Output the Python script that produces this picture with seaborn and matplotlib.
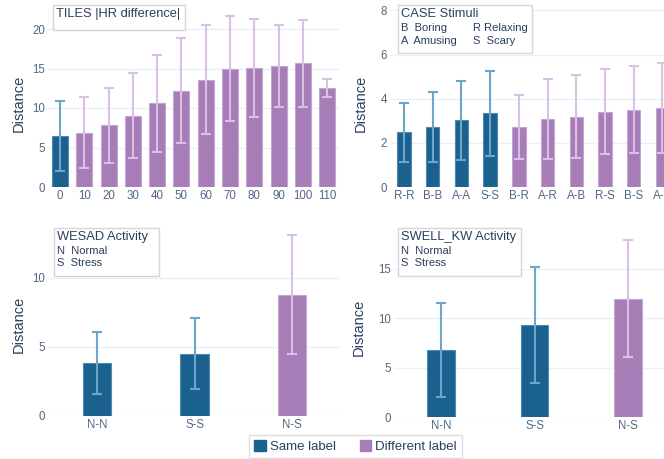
import pandas as pd
import numpy as np
import seaborn as sns
import matplotlib.pyplot as plt
from matplotlib.patches import Patch, Rectangle

# data
tiles_cats = ["0", "10", "20", "30", "40", "50", "60", "70", "80", "90", "100", "110"]
tiles_mean = [6.45, 6.85, 7.8, 9.05, 10.6, 12.2, 13.6, 15.0, 15.05, 15.3, 15.65, 12.55]
tiles_sd = [4.45, 4.5, 4.75, 5.4, 6.15, 6.65, 6.85, 6.7, 6.25, 5.2, 5.5, 1.1]
tiles_grp = ["Same label"] + ["Different label"] * 11

case_cats = ["R-R", "B-B", "A-A", "S-S", "B-R", "A-R", "A-B", "R-S", "B-S", "A-S"]
case_mean = [2.47, 2.73, 3.02, 3.33, 2.7, 3.08, 3.18, 3.42, 3.5, 3.58]
case_sd = [1.33, 1.58, 1.8, 1.93, 1.45, 1.83, 1.88, 1.91, 1.96, 2.04]
case_grp = ["Same label"] * 4 + ["Different label"] * 6

wesad_cats = ["N-N", "S-S", "N-S"]
wesad_mean = [3.83, 4.52, 8.77]
wesad_sd = [2.25, 2.58, 4.32]
wesad_grp = ["Same label", "Same label", "Different label"]

swell_cats = ["N-N", "S-S", "N-S"]
swell_mean = [6.8, 9.3, 12.0]
swell_sd = [4.75, 5.9, 5.95]
swell_grp = ["Same label", "Same label", "Different label"]

W, H = 664, 459
GROUPS = ["Same label", "Different label"]
BLUE, PURPLE = "#1b6190", "#a77db8"
ERR = {"Same label": "#6ea6c9", "Different label": "#d9c0e4"}
EDGE = {"Same label": "#4f89b0", "Different label": "#c4a4d2"}
TICK, TITLE, GRID = "#506784", "#2a3f5f", "#ebf0f8"

sns.set_style("white")
plt.rcParams["font.family"] = ["Liberation Sans", "DejaVu Sans"]

fig = plt.figure(figsize=(W / 100, H / 100), dpi=100)


def add_ax(left, bottom, right, top):
    # pixel box (from top-left) -> figure fractions
    return fig.add_axes([left / W, 1 - bottom / H, (right - left) / W, (bottom - top) / H])


def draw(ax, cats, mean, sd, grp, width, ylim, yticks, xlim, lab_xy):
    df = pd.DataFrame({"cat": cats, "mean": mean, "sd": sd, "grp": grp})
    sns.barplot(data=df, x="cat", y="mean", hue="grp", order=cats, hue_order=GROUPS,
                palette=[BLUE, PURPLE], saturation=1, dodge=False, width=width,
                errorbar=None, legend=False, ax=ax, zorder=2)
    for cont, g in zip(ax.containers, GROUPS):
        for p in cont:
            p.set_edgecolor(EDGE[g])
            p.set_linewidth(0.8)
    for i, row in df.iterrows():
        ax.errorbar(i, row["mean"], yerr=row["sd"], color=ERR[row["grp"]],
                    lw=1.5, capsize=3.8, capthick=1.5, zorder=3)
    ax.set_ylim(*ylim)
    ax.set_xlim(*xlim)
    ax.set_yticks(yticks)
    ax.grid(axis="y", color=GRID, lw=1, zorder=0)
    ax.set_axisbelow(True)
    for s in ax.spines.values():
        s.set_visible(False)
    ax.tick_params(axis="both", labelsize=8.3, colors=TICK, length=0, pad=2)
    ax.set_xlabel("")
    ax.set_ylabel("Distance", fontsize=10.5, color=TITLE)
    ax.yaxis.label.set_verticalalignment("center")
    ax.yaxis.set_label_coords(*lab_xy)


def note_box(x0, y0, x1, y1, title, rows, col2=None):
    fig.patches.append(Rectangle((x0 / W, 1 - y1 / H), (x1 - x0) / W, (y1 - y0) / H,
                                 transform=fig.transFigure, facecolor="white",
                                 edgecolor="#d6d6d6", lw=1, zorder=5))
    fig.text((x0 + 3) / W, 1 - (y0 + 9) / H, title, fontsize=9.3, color=TITLE,
             va="center", ha="left", zorder=6)
    for k, r in enumerate(rows):
        fig.text((x0 + 3) / W, 1 - (y0 + 23 + 12.5 * k) / H, r, fontsize=8, color=TITLE,
                 va="center", ha="left", zorder=6)
    if col2:
        cx, items = col2
        for k, r in enumerate(items):
            fig.text(cx / W, 1 - (y0 + 23 + 12.5 * k) / H, r, fontsize=8, color=TITLE,
                     va="center", ha="left", zorder=6)


ax1 = add_ax(47.8, 187, 339.4, 5.3)
draw(ax1, tiles_cats, tiles_mean, tiles_sd, tiles_grp, 0.66, (0, 23),
     [0, 5, 10, 15, 20], (-0.5, 11.5), (-0.1, 0.46))

# the CASE panel runs past the right edge of the figure, as in the original
ax2 = add_ax(389.7, 187, 676.7, 6)
draw(ax2, case_cats, case_mean, case_sd, case_grp, 0.47, (0, 8.2),
     [0, 2, 4, 6, 8], (-0.5, 9.5), (-0.1, 0.46))

ax3 = add_ax(48.25, 416, 340.75, 228)
draw(ax3, wesad_cats, wesad_mean, wesad_sd, wesad_grp, 0.29, (0, 13.6),
     [0, 5, 10], (-0.5, 2.5), (-0.1, 0.49))

ax4 = add_ax(394.25, 417, 674.75, 228)
draw(ax4, swell_cats, swell_mean, swell_sd, swell_grp, 0.29, (0, 19.15),
     [0, 5, 10, 15], (-0.5, 2.5), (-0.125, 0.476))

note_box(53, 5, 185, 30, "TILES |HR difference|", [])
note_box(398, 5, 532, 53, "CASE Stimuli", ["B  Boring", "A  Amusing"],
         (473, ["R Relaxing", "S  Scary"]))
note_box(54, 228, 159, 276, "WESAD Activity", ["N  Normal", "S  Stress"])
note_box(398, 228, 521, 276, "SWELL_KW Activity", ["N  Normal", "S  Stress"])

handles = [Patch(facecolor=BLUE, edgecolor=BLUE, label="Same label"),
           Patch(facecolor=PURPLE, edgecolor=PURPLE, label="Different label")]
leg = fig.legend(handles=handles, loc="center", bbox_to_anchor=(355.5 / W, 1 - 446.5 / H),
                 ncol=2, fontsize=9.5, frameon=True, fancybox=False,
                 handlelength=0.9, handleheight=0.9, handletextpad=0.3,
                 columnspacing=1.8, borderpad=0.35, labelcolor=TITLE)
leg.get_frame().set_edgecolor("#d6d6d6")
leg.get_frame().set_linewidth(1)

fig.savefig("out.png", dpi=100)
